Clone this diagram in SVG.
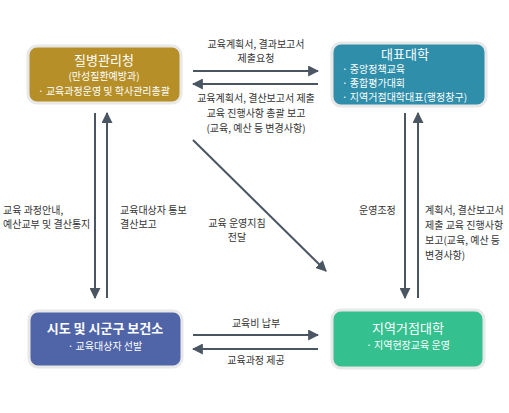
<svg xmlns="http://www.w3.org/2000/svg" width="509" height="413" viewBox="0 0 509 413">
<style>
text{font-family:"Noto Sans CJK KR","Noto Sans",sans-serif;}
.box{stroke:#e8e8e8;stroke-width:3;}
.t{fill:#fff;font-size:10px;}
.h{fill:#fff;font-size:13px;}
.l{fill:#333;font-size:10px;}
.c{text-anchor:middle;}
.ln{stroke:#4b5663;stroke-width:2;fill:none;marker-end:url(#ah);}
</style>
<defs>
<marker id="ah" viewBox="0 0 10 10" refX="9" refY="5" markerWidth="5.5" markerHeight="5.5" orient="auto" markerUnits="strokeWidth">
<path d="M0,0 L10,5 L0,10 z" fill="#4b5663"/>
</marker>
</defs>
<rect width="509" height="413" fill="#fff"/>
<g id="connectors">
<line class="ln" x1="193" y1="71" x2="318" y2="71"/>
<line class="ln" x1="318" y1="84" x2="193" y2="84"/>
<line class="ln" x1="95" y1="113" x2="95" y2="298"/>
<line class="ln" x1="107" y1="298" x2="107" y2="113"/>
<line class="ln" x1="405" y1="113" x2="405" y2="298"/>
<line class="ln" x1="418" y1="298" x2="418" y2="113"/>
<line class="ln" x1="193" y1="140" x2="326" y2="271"/>
<line class="ln" x1="193" y1="335" x2="318" y2="335"/>
<line class="ln" x1="318" y1="349" x2="193" y2="349"/>
<text class="l c" x="256" y="48">교육계획서, 결과보고서</text>
<text class="l c" x="256" y="62">제출요청</text>
<text class="l c" x="256" y="102">교육계획서, 결산보고서 제출</text>
<text class="l c" x="256" y="117">교육 진행사항 총괄 보고</text>
<text class="l c" x="256" y="132">(교육, 예산 등 변경사항)</text>
<text class="l" x="3" y="214">교육 과정안내,</text>
<text class="l" x="3" y="228">예산교부 및 결산통지</text>
<text class="l" x="120" y="214">교육대상자 통보</text>
<text class="l" x="120" y="228">결산보고</text>
<text class="l c" x="237" y="227">교육 운영지침</text>
<text class="l c" x="237" y="241">전달</text>
<text class="l" x="359" y="214">운영조정</text>
<text class="l" x="425" y="214">계획서, 결산보고서</text>
<text class="l" x="425" y="229">제출 교육 진행사항</text>
<text class="l" x="425" y="244">보고(교육, 예산 등</text>
<text class="l" x="425" y="259">변경사항)</text>
<text class="l c" x="256" y="327">교육비 납부</text>
<text class="l c" x="256" y="364">교육과정 제공</text>
</g>
<g id="node-kdca">
<rect class="box" x="28" y="46" width="153" height="57" rx="9" fill="#b68f28"/>
<text class="h c" x="104" y="65">질병관리청</text>
<text class="t c" x="104" y="80">(만성질환예방과)</text>
<text class="t c" x="104" y="95">· 교육과정운영 및 학사관리총괄</text>
</g>
<g id="node-rep">
<rect class="box" x="332" y="43" width="154" height="63" rx="9" fill="#2f8eaa"/>
<text class="h c" x="405" y="59">대표대학</text>
<text class="t" x="342" y="73">·  중앙정책교육</text>
<text class="t" x="342" y="87">·  종합평가대회</text>
<text class="t" x="342" y="101">·  지역거점대학대표(행정창구)</text>
</g>
<g id="node-local">
<rect class="box" x="29" y="311" width="153" height="56" rx="9" fill="#5064a8"/>
<text class="h c" x="105" y="333" font-weight="bold">시도 및  시군구 보건소</text>
<text class="t c" x="105" y="350">· 교육대상자 선발</text>
</g>
<g id="node-hub">
<rect class="box" x="332" y="310" width="152" height="58" rx="9" fill="#35c090"/>
<text class="h c" x="408" y="333">지역거점대학</text>
<text class="t c" x="408" y="349">· 지역현장교육 운영</text>
</g>
</svg>
